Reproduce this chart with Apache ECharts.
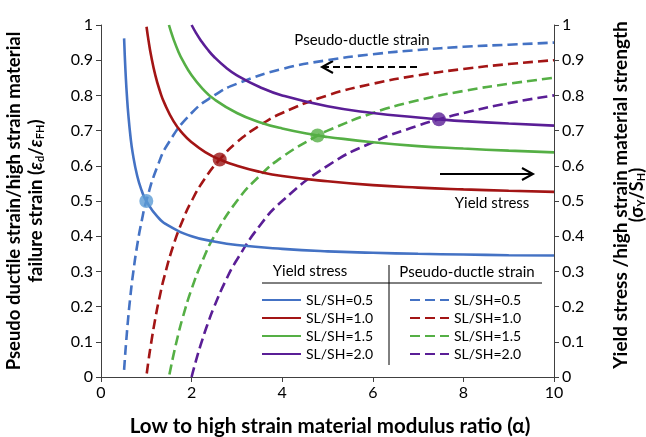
<!DOCTYPE html>
<html><head><meta charset="utf-8">
<script src="https://cdn.jsdelivr.net/npm/echarts@6/dist/echarts.min.js"></script>
<style>html,body{margin:0;padding:0;background:#fff}#c{width:646px;height:437px}</style>
</head><body><div id="c"></div>
<script>
// ---- data ----
const ratioNames = ['SL/SH=0.5', 'SL/SH=1.0', 'SL/SH=1.5', 'SL/SH=2.0'];
const xTickLabels = ['0', '2', '4', '6', '8', '10'];

// Yield stress (solid, right axis)
const yield05 = [[0.51,0.962],[0.52,0.929],[0.53,0.898],[0.55,0.846],[0.575,0.793],[0.6,0.75],[0.65,0.684],[0.7,0.636],[0.8,0.571],[0.9,0.529],[1,0.5],[1.25,0.455],[1.5,0.429],[2,0.4],[2.5,0.385],[3,0.375],[4,0.364],[5,0.357],[6,0.353],[7,0.35],[8,0.348],[9,0.346],[10,0.345]];
const yield10 = [[1.005,0.995],[1.05,0.955],[1.1,0.917],[1.2,0.857],[1.3,0.8125],[1.4,0.778],[1.6,0.727],[1.8,0.692],[2,0.667],[2.3,0.639],[2.62,0.618],[3,0.6],[3.5,0.583],[4,0.571],[5,0.556],[6,0.545],[7,0.538],[8,0.533],[9,0.529],[10,0.526]];
const yield15 = [[1.5,1.0],[1.55,0.979],[1.6,0.96],[1.7,0.927],[1.8,0.9],[2,0.857],[2.25,0.818],[2.5,0.789],[3,0.75],[3.5,0.724],[4,0.706],[4.78,0.686],[5,0.682],[6,0.667],[7,0.656],[8,0.649],[9,0.643],[10,0.638]];
const yield20 = [[2,1.0],[2.1,0.977],[2.2,0.957],[2.35,0.931],[2.5,0.909],[2.75,0.88],[3,0.857],[3.5,0.824],[4,0.8],[5,0.769],[6,0.75],[7,0.737],[7.46,0.732],[8,0.727],[9,0.72],[10,0.714]];

// Pseudo-ductile strain (dashed, left axis)
const strain05 = [[0.51,0.02],[0.53,0.057],[0.55,0.091],[0.6,0.167],[0.65,0.231],[0.7,0.286],[0.8,0.375],[0.9,0.444],[1,0.5],[1.25,0.6],[1.5,0.667],[2,0.75],[2.5,0.8],[3,0.833],[4,0.875],[5,0.9],[6,0.917],[7,0.929],[8,0.938],[9,0.944],[10,0.95]];
const strain10 = [[1.01,0.01],[1.05,0.048],[1.1,0.091],[1.2,0.167],[1.3,0.231],[1.4,0.286],[1.6,0.375],[1.8,0.444],[2,0.5],[2.3,0.565],[2.62,0.618],[3,0.667],[3.5,0.714],[4,0.75],[5,0.8],[6,0.833],[7,0.857],[8,0.875],[9,0.889],[10,0.9]];
const strain15 = [[1.51,0.007],[1.55,0.032],[1.6,0.0625],[1.7,0.118],[1.8,0.167],[2,0.25],[2.25,0.333],[2.5,0.4],[3,0.5],[3.5,0.571],[4,0.625],[4.78,0.686],[5,0.7],[6,0.75],[7,0.786],[8,0.8125],[9,0.833],[10,0.85]];
const strain20 = [[2.0,0.0],[2.1,0.048],[2.2,0.091],[2.35,0.149],[2.5,0.2],[2.75,0.273],[3,0.333],[3.5,0.429],[4,0.5],[5,0.6],[6,0.667],[7,0.714],[7.46,0.732],[8,0.75],[9,0.778],[10,0.8]];

// Intersection markers
const crossPoints = [[1.0,0.5],[2.62,0.618],[4.78,0.686],[7.46,0.732]];

// ---- styling ----
const colors = ['#4472C4', '#A31515', '#55AF45', '#5A1E96'];
const markerColors = ['#5B9BD5', '#9B1414', '#55AF45', '#5A1E96'];
const FONT = 'Lato, "Open Sans", sans-serif';
const yieldSets = [yield05, yield10, yield15, yield20];
const strainSets = [strain05, strain10, strain15, strain20];
const DASH_SUFFIX = '\u200b';

const series = [];
yieldSets.forEach((d, i) => series.push({
  name: ratioNames[i], type: 'line', data: d, yAxisIndex: 1,
  symbol: 'none', smooth: true, z: 3,
  lineStyle: { color: colors[i], width: 2.6 }, itemStyle: { color: colors[i] }
}));
strainSets.forEach((d, i) => series.push({
  name: ratioNames[i] + DASH_SUFFIX, type: 'line', data: d, yAxisIndex: 0,
  symbol: 'none', smooth: true, z: 2,
  lineStyle: { color: colors[i], width: 2.6, type: [10, 5] }, itemStyle: { color: colors[i] }
}));
series.push({
  name: 'cross', type: 'scatter', yAxisIndex: 0, symbolSize: 14, z: 5,
  data: crossPoints.map((p, i) => ({ value: p, itemStyle: { color: markerColors[i] } }))
});

const legendCommon = {
  orient: 'vertical', itemWidth: 39, itemHeight: 14, itemGap: 4, itemStyle: { opacity: 0 },
  textStyle: { fontFamily: FONT, fontSize: 14, color: '#000', lineHeight: 14 },
  formatter: n => n.replace(DASH_SUFFIX, '')
};

const axisLabelStyle = { fontFamily: FONT, fontSize: 16, color: '#000', margin: 8 };

const chart = echarts.init(document.getElementById('c'), null, { renderer: 'canvas' });
chart.setOption({
  animation: false,
  backgroundColor: '#fff',
  grid: { left: 101, right: 92, top: 25, bottom: 60 },
  xAxis: {
    type: 'value', min: 0, max: 10, interval: 2,
    axisLine: { show: true, lineStyle: { color: '#404040', width: 1 } },
    axisTick: { show: true, length: 5, lineStyle: { color: '#404040' } },
    axisLabel: Object.assign({ formatter: v => xTickLabels[Math.round(v / 2)] }, axisLabelStyle),
    splitLine: { show: false }
  },
  yAxis: [
    { type: 'value', min: 0, max: 1, interval: 0.1, position: 'left',
      axisLine: { show: true, lineStyle: { color: '#404040', width: 1 } },
      axisTick: { show: true, length: 5, lineStyle: { color: '#404040' } },
      axisLabel: Object.assign({ formatter: v => String(Math.round(v * 10) / 10) }, axisLabelStyle),
      splitLine: { show: false } },
    { type: 'value', min: 0, max: 1, interval: 0.1, position: 'right',
      axisLine: { show: true, lineStyle: { color: '#404040', width: 1 } },
      axisTick: { show: true, length: 5, lineStyle: { color: '#404040' } },
      axisLabel: Object.assign({ formatter: v => String(Math.round(v * 10) / 10) }, axisLabelStyle),
      splitLine: { show: false } }
  ],
  legend: [
    Object.assign({ left: 256, top: 288, data: ratioNames }, legendCommon),
    Object.assign({ left: 404, top: 288, data: ratioNames.map(n => n + DASH_SUFFIX) }, legendCommon)
  ],
  series: series,
  graphic: [
    // axis titles
    { type: 'text', x: 14, y: 201, rotation: Math.PI / 2,
      style: { text: 'Pseudo ductile strain/high strain material', font: 'bold 18.5px ' + FONT,
        fill: '#000', align: 'center', verticalAlign: 'middle' } },
    { type: 'text', x: 36, y: 201, rotation: Math.PI / 2,
      style: { text: 'failure strain ({e|ε}{s|d}/{e|ε}{s|FH})', font: 'bold 18.5px ' + FONT,
        fill: '#000', align: 'center', verticalAlign: 'middle',
        rich: { e: { font: 'italic bold 18.5px ' + FONT, fill: '#000' },
                s: { font: 'bold 11px ' + FONT, fill: '#000', verticalAlign: 'bottom', padding: [8, 0, 0, 0] } } } },
    { type: 'text', x: 621, y: 195, rotation: Math.PI / 2,
      style: { text: 'Yield stress /high strain material strength', font: 'bold 19px ' + FONT,
        fill: '#000', align: 'center', verticalAlign: 'middle' } },
    { type: 'text', x: 637, y: 195, rotation: Math.PI / 2,
      style: { text: '(σ{s|Y}/S{s|H})', font: 'bold 18px ' + FONT,
        fill: '#000', align: 'center', verticalAlign: 'middle',
        rich: { s: { font: 'bold 11px ' + FONT, fill: '#000', verticalAlign: 'bottom', padding: [8, 0, 0, 0] } } } },
    { type: 'text', x: 330, y: 426,
      style: { text: 'Low to high strain material modulus ratio (α)', font: 'bold 20.5px ' + FONT,
        fill: '#000', align: 'center', verticalAlign: 'middle' } },
    // annotations
    { type: 'text', x: 362, y: 40,
      style: { text: 'Pseudo-ductle strain', font: '15px ' + FONT, fill: '#000', align: 'center', verticalAlign: 'middle' } },
    { type: 'line', shape: { x1: 322, y1: 67, x2: 420, y2: 67 },
      style: { stroke: '#000', lineWidth: 2, lineDash: [7, 4] } },
    { type: 'polyline', shape: { points: [[333, 61], [322, 67], [333, 73]] },
      style: { stroke: '#000', lineWidth: 2, fill: null } },
    { type: 'line', shape: { x1: 440, y1: 174, x2: 533, y2: 174 },
      style: { stroke: '#000', lineWidth: 2 } },
    { type: 'polyline', shape: { points: [[522, 168], [533, 174], [522, 180]] },
      style: { stroke: '#000', lineWidth: 2, fill: null } },
    { type: 'text', x: 492, y: 203,
      style: { text: 'Yield stress', font: '15px ' + FONT, fill: '#000', align: 'center', verticalAlign: 'middle' } },
    // legend headers and dividers
    { type: 'text', x: 310, y: 271,
      style: { text: 'Yield stress', font: '15px ' + FONT, fill: '#000', align: 'center', verticalAlign: 'middle' } },
    { type: 'text', x: 467, y: 272,
      style: { text: 'Pseudo-ductle strain', font: '15px ' + FONT, fill: '#000', align: 'center', verticalAlign: 'middle' } },
    { type: 'line', shape: { x1: 262, y1: 283, x2: 542, y2: 283 }, style: { stroke: '#000', lineWidth: 1 } },
    { type: 'line', shape: { x1: 389, y1: 265, x2: 389, y2: 365 }, style: { stroke: '#000', lineWidth: 1 } }
  ]
});
</script>
</body></html>
